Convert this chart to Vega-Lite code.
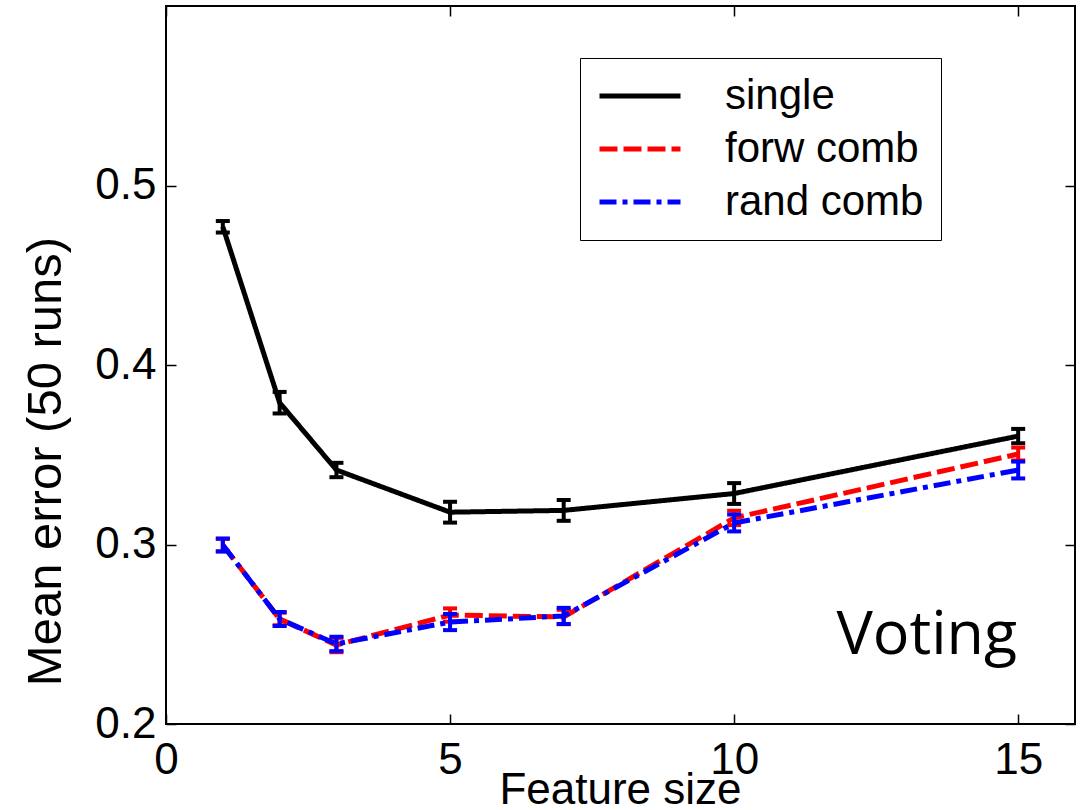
{
  "$schema": "https://vega.github.io/schema/vega-lite/v6.json",
  "width": 909,
  "height": 718,
  "autosize": "none",
  "padding": {"left": 166, "top": 6, "right": 9, "bottom": 86},
  "background": "white",
  "config": {
    "view": {"stroke": "black", "strokeWidth": 2},
    "font": "Liberation Sans",
    "axis": {
      "domain": false,
      "grid": false,
      "tickColor": "black",
      "tickSize": -10,
      "tickWidth": 1.5,
      "labelColor": "black",
      "labelFont": "Liberation Sans",
      "labelFontSize": 44,
      "titleColor": "black",
      "titleFont": "Liberation Sans",
      "titleFontWeight": "normal"
    },
    "legend": {
      "orient": "none",
      "legendX": 414,
      "legendY": 52,
      "strokeColor": "black",
      "fillColor": "white",
      "padding": 17,
      "labelFontSize": 42,
      "labelFont": "Liberation Sans",
      "labelColor": "black",
      "symbolType": "stroke",
      "symbolStrokeWidth": 5,
      "symbolSize": 6561,
      "clipHeight": 42,
      "labelOffset": 42,
      "rowPadding": 11,
      "labelLimit": 400
    }
  },
  "datasets": {
    "pts": [
      {"series": "single", "x": 1, "y": 0.477, "lo": 0.4738, "hi": 0.4802},
      {"series": "single", "x": 2, "y": 0.379, "lo": 0.373, "hi": 0.385},
      {"series": "single", "x": 3, "y": 0.3415, "lo": 0.3375, "hi": 0.3455},
      {"series": "single", "x": 5, "y": 0.318, "lo": 0.3122, "hi": 0.3238},
      {"series": "single", "x": 7, "y": 0.319, "lo": 0.3132, "hi": 0.3248},
      {"series": "single", "x": 10, "y": 0.3284, "lo": 0.3226, "hi": 0.3342},
      {"series": "single", "x": 15, "y": 0.3604, "lo": 0.3564, "hi": 0.3644},
      {"series": "forw comb", "x": 1, "y": 0.2997, "lo": 0.2962, "hi": 0.3032},
      {"series": "forw comb", "x": 2, "y": 0.2585, "lo": 0.255, "hi": 0.262},
      {"series": "forw comb", "x": 3, "y": 0.244, "lo": 0.24, "hi": 0.248},
      {"series": "forw comb", "x": 5, "y": 0.2607, "lo": 0.257, "hi": 0.2644},
      {"series": "forw comb", "x": 7, "y": 0.2596, "lo": 0.2556, "hi": 0.2636},
      {"series": "forw comb", "x": 10, "y": 0.3148, "lo": 0.3108, "hi": 0.3188},
      {"series": "forw comb", "x": 15, "y": 0.3504, "lo": 0.3468, "hi": 0.354},
      {"series": "rand comb", "x": 1, "y": 0.2997, "lo": 0.2961, "hi": 0.3033},
      {"series": "rand comb", "x": 2, "y": 0.2585, "lo": 0.2546, "hi": 0.2624},
      {"series": "rand comb", "x": 3, "y": 0.2446, "lo": 0.2406, "hi": 0.2486},
      {"series": "rand comb", "x": 5, "y": 0.2568, "lo": 0.2523, "hi": 0.2613},
      {"series": "rand comb", "x": 7, "y": 0.2602, "lo": 0.2557, "hi": 0.2647},
      {"series": "rand comb", "x": 10, "y": 0.312, "lo": 0.3073, "hi": 0.3167},
      {"series": "rand comb", "x": 15, "y": 0.3415, "lo": 0.3368, "hi": 0.3462}
    ]
  },
  "layer": [
    {
      "data": {"name": "pts"},
      "encoding": {
        "x": {
          "field": "x",
          "type": "quantitative",
          "scale": {"domain": [0, 16], "nice": false, "zero": false},
          "axis": {
            "orient": "bottom",
            "values": [0, 5, 10, 15],
            "labelPadding": 24,
            "labelFlush": false,
            "title": "Feature size",
            "titleFontSize": 44,
            "titleX": 454,
            "titleY": 79,
            "titleAlign": "center",
            "titleBaseline": "alphabetic"
          }
        },
        "y": {
          "field": "y",
          "type": "quantitative",
          "scale": {"domain": [0.2, 0.6], "nice": false, "zero": false},
          "axis": {
            "orient": "left",
            "values": [0.2, 0.3, 0.4, 0.5],
            "format": ".1f",
            "labelPadding": 20,
            "labelFlush": false,
            "title": "Mean error (50 runs)",
            "titleFontSize": 49,
            "titleAngle": -90,
            "titleX": -106,
            "titleY": 455,
            "titleAlign": "center",
            "titleBaseline": "alphabetic"
          }
        },
        "color": {
          "field": "series",
          "type": "nominal",
          "title": null,
          "scale": {"domain": ["single", "forw comb", "rand comb"], "range": ["#000000", "#ff0000", "#0000ff"]}
        }
      },
      "layer": [
        {
          "transform": [{"filter": "datum.series === 'single'"}],
          "layer": [
            {
              "mark": {"type": "line", "strokeWidth": 5, "strokeCap": "butt"},
              "encoding": {
                "strokeDash": {"field": "series", "type": "nominal", "title": null,
                  "scale": {"domain": ["single", "forw comb", "rand comb"], "range": [[1, 0], [18, 6], [17, 6, 5, 6]]}}
              }
            },
            {"mark": {"type": "rule", "strokeWidth": 4}, "encoding": {"y": {"field": "lo", "type": "quantitative"}, "y2": {"field": "hi"}}},
            {"mark": {"type": "tick", "orient": "horizontal", "size": 14, "thickness": 4, "opacity": 1}, "encoding": {"y": {"field": "lo", "type": "quantitative"}}},
            {"mark": {"type": "tick", "orient": "horizontal", "size": 14, "thickness": 4, "opacity": 1}, "encoding": {"y": {"field": "hi", "type": "quantitative"}}}
          ]
        },
        {
          "transform": [{"filter": "datum.series === 'forw comb'"}],
          "layer": [
            {
              "mark": {"type": "line", "strokeWidth": 5, "strokeCap": "butt"},
              "encoding": {
                "strokeDash": {"field": "series", "type": "nominal", "title": null,
                  "scale": {"domain": ["single", "forw comb", "rand comb"], "range": [[1, 0], [18, 6], [17, 6, 5, 6]]}}
              }
            },
            {"mark": {"type": "rule", "strokeWidth": 4}, "encoding": {"y": {"field": "lo", "type": "quantitative"}, "y2": {"field": "hi"}}},
            {"mark": {"type": "tick", "orient": "horizontal", "size": 14, "thickness": 4, "opacity": 1}, "encoding": {"y": {"field": "lo", "type": "quantitative"}}},
            {"mark": {"type": "tick", "orient": "horizontal", "size": 14, "thickness": 4, "opacity": 1}, "encoding": {"y": {"field": "hi", "type": "quantitative"}}}
          ]
        },
        {
          "transform": [{"filter": "datum.series === 'rand comb'"}],
          "layer": [
            {
              "mark": {"type": "line", "strokeWidth": 5, "strokeCap": "butt"},
              "encoding": {
                "strokeDash": {"field": "series", "type": "nominal", "title": null,
                  "scale": {"domain": ["single", "forw comb", "rand comb"], "range": [[1, 0], [18, 6], [17, 6, 5, 6]]}}
              }
            },
            {"mark": {"type": "rule", "strokeWidth": 4}, "encoding": {"y": {"field": "lo", "type": "quantitative"}, "y2": {"field": "hi"}}},
            {"mark": {"type": "tick", "orient": "horizontal", "size": 14, "thickness": 4, "opacity": 1}, "encoding": {"y": {"field": "lo", "type": "quantitative"}}},
            {"mark": {"type": "tick", "orient": "horizontal", "size": 14, "thickness": 4, "opacity": 1}, "encoding": {"y": {"field": "hi", "type": "quantitative"}}}
          ]
        }
      ]
    },
    {
      "data": {"values": [{"label": "Voting"}]},
      "mark": {"type": "text", "align": "left", "baseline": "alphabetic", "font": "Open Sans", "fontSize": 61, "color": "black"},
      "encoding": {
        "text": {"field": "label"},
        "x": {
          "datum": 11.8,
          "type": "quantitative",
          "axis": {"orient": "top", "values": [0, 5, 10, 15], "labels": false, "title": null}
        },
        "y": {
          "datum": 0.239,
          "type": "quantitative",
          "axis": {"orient": "right", "values": [0.2, 0.3, 0.4, 0.5], "labels": false, "title": null}
        }
      }
    }
  ],
  "resolve": {"axis": {"x": "independent", "y": "independent"}}
}
